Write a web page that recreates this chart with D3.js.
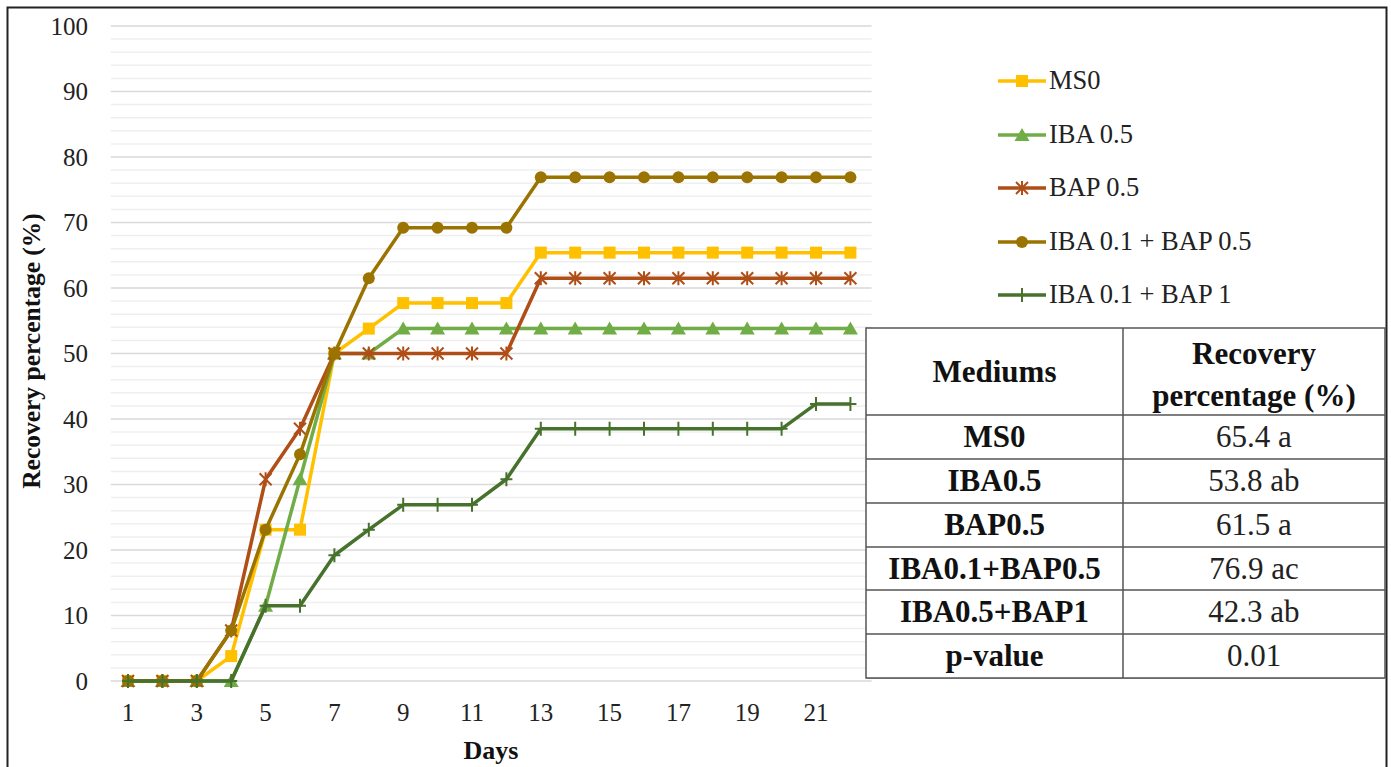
<!DOCTYPE html>
<html><head><meta charset="utf-8">
<script src="https://cdn.jsdelivr.net/npm/d3@7"></script>
<style>
html,body{margin:0;padding:0;background:#fff;}
svg{display:block;}
svg text{font-family:"Liberation Serif","Times New Roman",Tinos,"Noto Serif","DejaVu Serif",serif !important;}
</style></head>
<body>
<svg id="chart" width="1391" height="767"></svg>
<script>
const days = d3.range(1, 23);
const xTickLabels = [1,3,5,7,9,11,13,15,17,19,21];
const yTicks = [0,10,20,30,40,50,60,70,80,90,100];
const seriesNames = ["MS0","IBA 0.5","BAP 0.5","IBA 0.1 + BAP 0.5","IBA 0.1 + BAP 1"];
const seriesColors = ["#FFC000","#70AD47","#B04E17","#9A7300","#46722C"];
const seriesMarkers = ["square","triangle","star","circle","plus"];
const ms0 =     [0,0,0,3.8,23.1,23.1,50,53.8,57.7,57.7,57.7,57.7,65.4,65.4,65.4,65.4,65.4,65.4,65.4,65.4,65.4,65.4];
const iba05 =   [0,0,0,0,11.5,30.8,50,50,53.8,53.8,53.8,53.8,53.8,53.8,53.8,53.8,53.8,53.8,53.8,53.8,53.8,53.8];
const bap05 =   [0,0,0,7.7,30.8,38.5,50,50,50,50,50,50,61.5,61.5,61.5,61.5,61.5,61.5,61.5,61.5,61.5,61.5];
const iba01bap05 = [0,0,0,7.7,23.1,34.6,50,61.5,69.2,69.2,69.2,69.2,76.9,76.9,76.9,76.9,76.9,76.9,76.9,76.9,76.9,76.9];
const iba01bap1 =  [0,0,0,0,11.5,11.5,19.2,23.1,26.9,26.9,26.9,30.8,38.5,38.5,38.5,38.5,38.5,38.5,38.5,38.5,42.3,42.3];
const seriesValues = [ms0, iba05, bap05, iba01bap05, iba01bap1];
const tableHeader = ["Mediums","Recovery|percentage (%)"];
const tableMediums = ["MS0","IBA0.5","BAP0.5","IBA0.1+BAP0.5","IBA0.5+BAP1","p-value"];
const tableValues = ["65.4 a","53.8 ab","61.5 a","76.9 ac","42.3 ab","0.01"];

const svg = d3.select("#chart");
svg.append("rect").attr("x",7.5).attr("y",7.5).attr("width",1379).attr("height",780)
  .attr("fill","#fff").attr("stroke","#222").attr("stroke-width",2);

const plotLeft = 110.8, plotRight = 867.6, plotTop = 26, plotBottom = 681;
const x = d3.scaleBand().domain(days).range([plotLeft, plotRight]);
const cx = d => x(d) + x.bandwidth()/2;
const y = d3.scaleLinear().domain([0,100]).range([plotBottom, plotTop]);

const g = svg.append("g");
g.selectAll("line.minor").data(d3.range(2,100,2).filter(v=>v%10!==0)).join("line")
  .attr("x1",plotLeft).attr("x2",plotRight+4).attr("y1",d=>y(d)).attr("y2",d=>y(d))
  .attr("stroke","#efefef").attr("stroke-width",1.5);
g.selectAll("line.major").data(yTicks).join("line")
  .attr("x1",plotLeft).attr("x2",plotRight+4).attr("y1",d=>y(d)).attr("y2",d=>y(d))
  .attr("stroke","#d9d9d9").attr("stroke-width",1.5);

const yAxis = d3.axisLeft(y).tickValues(yTicks).tickSize(0).tickPadding(0);
const ya = svg.append("g").attr("transform","translate(88,0)").call(yAxis);
ya.select(".domain").remove();
ya.attr("font-family",null).attr("font-size",null);
ya.selectAll("text").attr("font-size",25).attr("fill","#222");

const xAxis = d3.axisBottom(x).tickValues(xTickLabels).tickSize(0).tickPadding(0);
const xa = svg.append("g").attr("transform","translate(0,703)").call(xAxis);
xa.select(".domain").remove();
xa.attr("font-family",null).attr("font-size",null);
xa.selectAll("text").attr("font-size",25).attr("fill","#222");

svg.append("text").attr("x",491).attr("y",759).attr("text-anchor","middle")
  .attr("font-size",26).attr("font-weight","bold").attr("fill","#111").text("Days");
svg.append("text").attr("transform","translate(40,351) rotate(-90)").attr("text-anchor","middle")
  .attr("font-size",25.5).attr("font-weight","bold").attr("fill","#111").text("Recovery percentage (%)");

function drawMarker(sel, type, color){
  if(type==="square"){
    sel.append("rect").attr("x",-6).attr("y",-6).attr("width",12).attr("height",12).attr("fill",color);
  } else if(type==="triangle"){
    sel.append("path").attr("d","M0,-7L7.5,6L-7.5,6Z").attr("fill",color);
  } else if(type==="circle"){
    sel.append("circle").attr("r",6).attr("fill",color);
  } else if(type==="star"){
    sel.append("path").attr("d","M-6,-6L6,6M-6,6L6,-6M0,-7L0,7").attr("stroke",color).attr("stroke-width",2).attr("fill","none");
  } else if(type==="plus"){
    sel.append("path").attr("d","M-6,0L6,0M0,-7L0,7").attr("stroke",color).attr("stroke-width",2).attr("fill","none");
  }
}

const line = d3.line().x((d,i)=>cx(days[i])).y(d=>y(d));
seriesValues.forEach((vals, si) => {
  const col = seriesColors[si];
  svg.append("path").datum(vals).attr("d",line).attr("fill","none")
    .attr("stroke",col).attr("stroke-width",3.5).attr("stroke-linejoin","round");
  const mg = svg.append("g");
  vals.forEach((v,i) => {
    const m = mg.append("g").attr("transform",`translate(${cx(days[i])},${y(v)})`);
    drawMarker(m, seriesMarkers[si], col);
  });
});

const legY = [81,135,188,242,295];
seriesNames.forEach((n,i)=>{
  const lg = svg.append("g").attr("transform",`translate(0,${legY[i]})`);
  lg.append("line").attr("x1",998).attr("x2",1046).attr("y1",0).attr("y2",0)
    .attr("stroke",seriesColors[i]).attr("stroke-width",3.5);
  drawMarker(lg.append("g").attr("transform","translate(1022,0)"), seriesMarkers[i], seriesColors[i]);
  lg.append("text").attr("x",1049).attr("y",8).attr("font-size",26.5).attr("fill","#222").text(n);
});

const tL = 866, tR = 1385, tT = 328, colX = 1123;
const rowEdges = [328, 415, 459, 503, 547, 590, 634, 678];
const tg = svg.append("g");
tg.append("rect").attr("x",tL+1).attr("y",tT+1).attr("width",tR-tL).attr("height",rowEdges[7]-tT)
  .attr("fill","#aaa");
tg.append("rect").attr("x",tL).attr("y",tT).attr("width",tR-tL).attr("height",rowEdges[7]-tT)
  .attr("fill","#fff").attr("stroke","#555").attr("stroke-width",1.5);
tg.selectAll("line.row").data(rowEdges.slice(1,7)).join("line")
  .attr("x1",tL).attr("x2",tR).attr("y1",d=>d).attr("y2",d=>d).attr("stroke","#555").attr("stroke-width",1.5);
tg.append("line").attr("x1",colX).attr("x2",colX).attr("y1",tT).attr("y2",rowEdges[7]).attr("stroke","#555").attr("stroke-width",1.5);
const c1 = (tL+colX)/2, c2 = (colX+tR)/2;
tg.append("text").attr("x",c1).attr("y",382).attr("text-anchor","middle").attr("font-size",31)
  .attr("font-weight","bold").attr("fill","#111").text(tableHeader[0]);
tableHeader[1].split("|").forEach((t,i)=>{
  tg.append("text").attr("x",c2).attr("y",364+i*42).attr("text-anchor","middle").attr("font-size",31)
    .attr("font-weight","bold").attr("fill","#111").text(t);
});
tableMediums.forEach((m,i)=>{
  const cy = (rowEdges[i+1]+rowEdges[i+2])/2;
  tg.append("text").attr("x",c1).attr("y",cy+10).attr("text-anchor","middle").attr("font-size",31)
    .attr("font-weight","bold").attr("fill","#111").text(m);
  tg.append("text").attr("x",c2).attr("y",cy+10).attr("text-anchor","middle").attr("font-size",31)
    .attr("fill","#222").text(tableValues[i]);
});
</script>
</body></html>
